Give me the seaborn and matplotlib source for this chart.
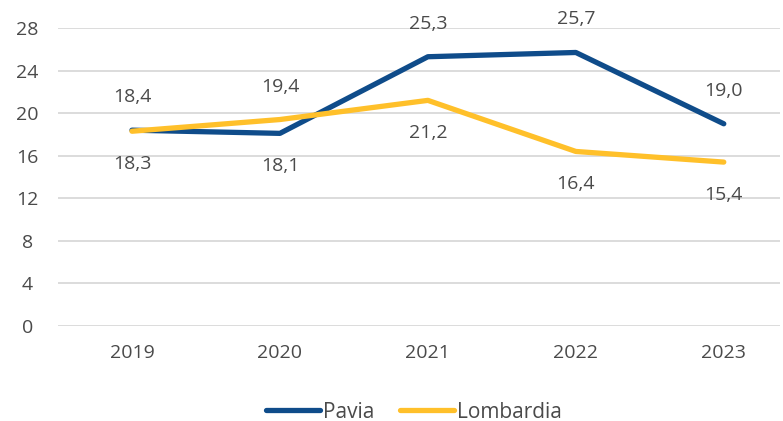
import matplotlib.pyplot as plt
import seaborn as sns
import pandas as pd

years = ["2019", "2020", "2021", "2022", "2023"]
pavia = [18.4, 18.1, 25.3, 25.7, 19.0]
lombardia = [18.3, 19.4, 21.2, 16.4, 15.4]
# label above (+1) or below (-1) the point
pavia_side = [1, -1, 1, 1, 1]
lombardia_side = [-1, 1, -1, -1, -1]

sns.set_style("white")
plt.rcParams['font.family'] = ['Open Sans', 'DejaVu Sans']

df = pd.DataFrame({
    "anno": years * 2,
    "valore": pavia + lombardia,
    "serie": ["Pavia"] * 5 + ["Lombardia"] * 5,
})

colors = {"Pavia": "#0F4C8A", "Lombardia": "#FFC02A"}
txt = "#4A4A4A"

fig = plt.figure(figsize=(7.83, 4.21), dpi=100)
ax = fig.add_axes([58 / 783, 1 - 326 / 421, 722 / 783, 298 / 421])

sns.lineplot(data=df, x="anno", y="valore", hue="serie", palette=colors,
             linewidth=3.8, ax=ax, sort=False, solid_capstyle="round")

for vals, sides in [(pavia, pavia_side), (lombardia, lombardia_side)]:
    for i, (v, s) in enumerate(zip(vals, sides)):
        ax.annotate(f"{v:.1f}".replace(".", ","), (i, v), xytext=(0, 33 * s),
                    textcoords="offset pixels",
                    ha="center", va="center", fontsize=14, color=txt)

ax.set_ylim(0, 28)
ax.set_yticks(range(0, 29, 4))
ax.set_xlim(-0.5, 4.38)
ax.yaxis.grid(True, color="#D9D9D9", linewidth=1.3)
ax.set_axisbelow(True)
for sp in ax.spines.values():
    sp.set_visible(False)
ax.set_xlabel("")
ax.set_ylabel("")
ax.tick_params(axis="both", length=0, labelsize=14, colors=txt)
ax.tick_params(axis="x", pad=13)
ax.tick_params(axis="y", pad=22)
for lab in ax.get_yticklabels():
    lab.set_horizontalalignment("center")

handles, labels = ax.get_legend_handles_labels()
ax.legend(handles, labels, loc="center", bbox_to_anchor=(414 / 783, 1 - 412 / 421),
          bbox_transform=fig.transFigure, ncol=2, frameon=False, fontsize=15,
          handlelength=2.6, handletextpad=0.15, columnspacing=1.2, labelcolor=txt)

fig.savefig("out.png", dpi=100)
